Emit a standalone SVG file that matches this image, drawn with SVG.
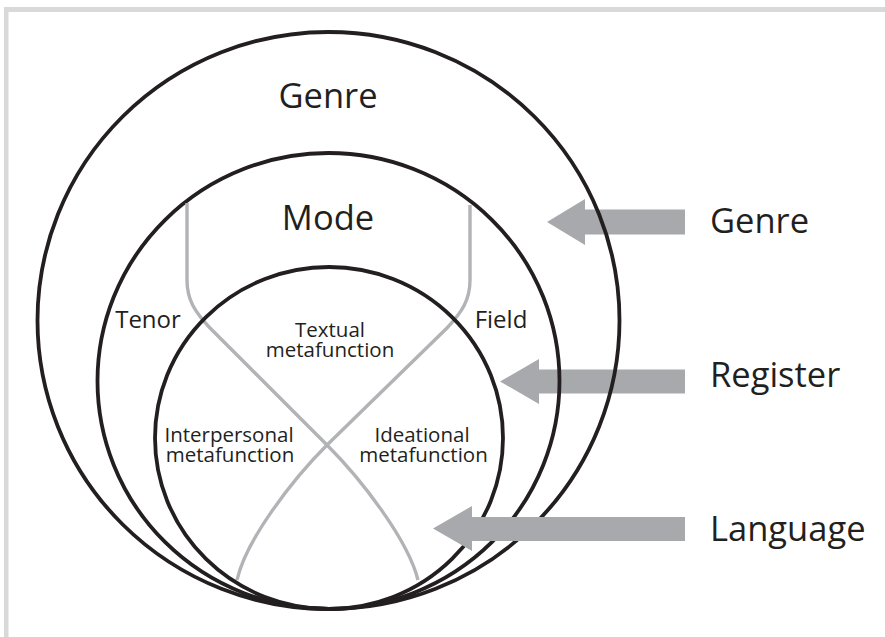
<svg xmlns="http://www.w3.org/2000/svg" width="885" height="637" viewBox="0 0 885 637">
<style>
.ring{fill:none;stroke:#231f20;stroke-width:3.8}
.wave{fill:none;stroke:#b1b3b6;stroke-width:3.4}
.arrow{fill:#a7a9ac}
.t{font-family:"Open Sans","Noto Sans","Liberation Sans",sans-serif;fill:#231f20}
.big{font-size:34.5px}
.mid{font-size:24px}
.sm{font-size:20.5px}
</style>
<rect x="0" y="0" width="885" height="637" fill="#ffffff"/>
<rect x="4" y="7" width="881" height="5" fill="#d9d9d9"/>
<rect x="4" y="7" width="4.5" height="630" fill="#d9d9d9"/>
<g id="connectors">
<polygon class="arrow" id="arrow-genre" points="685,209.5 585,209.5 585,199 547,222 585,245 585,234.5 685,234.5"/>
<polygon class="arrow" id="arrow-register" points="685,369.5 539,369.5 539,359 500,381.5 539,404 539,393.5 685,393.5"/>
</g>
<g id="genre-ring">
<ellipse class="ring" cx="328.5" cy="320.5" rx="291" ry="288.5"/>
<text class="t big" x="328" y="108" text-anchor="middle">Genre</text>
</g>
<g id="register-ring">
<ellipse class="ring" cx="328.5" cy="381" rx="231" ry="228"/>
<text class="t big" x="328" y="230" text-anchor="middle">Mode</text>
<text class="t mid" x="148" y="328" text-anchor="middle">Tenor</text>
<text class="t mid" x="501" y="328" text-anchor="middle">Field</text>
</g>
<g id="language-ring">
<path class="wave" d="M187,203 L187,280 C187,300 195,312 210,328 L327,445 C362,480 408,540 418,580"/>
<path class="wave" d="M470,205 L470,280 C470,300 462,312 447,328 L327,445 C292,480 246,540 237,580"/>
<ellipse class="ring" cx="329" cy="438" rx="174" ry="171"/>
<text class="t sm" x="330" y="337" text-anchor="middle">Textual</text>
<text class="t sm" x="330" y="357" text-anchor="middle">metafunction</text>
<text class="t sm" x="229" y="442" text-anchor="middle">Interpersonal</text>
<text class="t sm" x="230" y="462" text-anchor="middle">metafunction</text>
<text class="t sm" x="422" y="442" text-anchor="middle">Ideational</text>
<text class="t sm" x="423.5" y="462" text-anchor="middle">metafunction</text>
</g>
<g id="connectors-front">
<polygon class="arrow" id="arrow-language" points="685,517 472,517 472,506 433,528.5 472,551 472,541 685,541"/>
</g>
<g id="labels">
<text class="t big" x="710" y="233">Genre</text>
<text class="t big" x="710" y="387">Register</text>
<text class="t big" x="710" y="541">Language</text>
</g>
</svg>
